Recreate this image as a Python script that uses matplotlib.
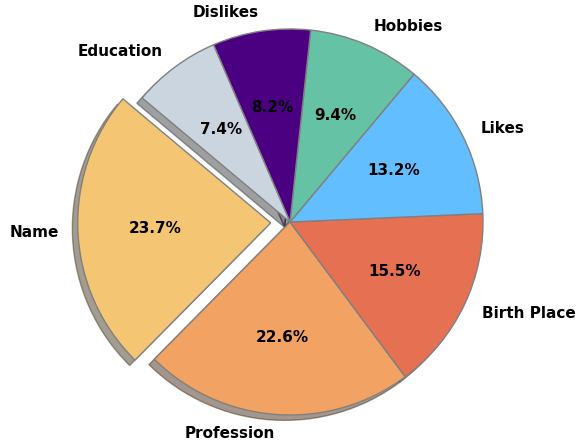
import matplotlib
matplotlib.use("Agg")
import matplotlib.pyplot as plt

plt.rcParams["font.family"] = ["DejaVu Sans"]

labels = ["Name", "Profession", "Birth Place", "Likes", "Hobbies", "Dislikes", "Education"]
values = [23.7, 22.6, 15.5, 13.2, 9.4, 8.2, 7.4]
colors = ["#F4C673", "#F2A262", "#E57052", "#62BEFF", "#66C2A5", "#4B0082", "#CBD5E0"]
explode = [0.1, 0, 0, 0, 0, 0, 0]

W, H = 579, 445
fig = plt.figure(figsize=(W / 100, H / 100), dpi=100)
r = 193.0
cx, cy = 290.0, 445 - 222.0
size = 2.5 * r
ax = fig.add_axes([(cx - size / 2) / W, (cy - size / 2) / H, size / W, size / H])
ax.pie(values, labels=labels, colors=colors, explode=explode, startangle=140,
       autopct="%1.1f%%", shadow=True,
       wedgeprops=dict(edgecolor="gray", linewidth=1),
       textprops=dict(fontsize=11, fontweight="bold", family="DejaVu Sans"))
ax.set_xlim(-1.25, 1.25)
ax.set_ylim(-1.25, 1.25)
ax.set_aspect("equal")
fig.savefig("out.png", dpi=100)
